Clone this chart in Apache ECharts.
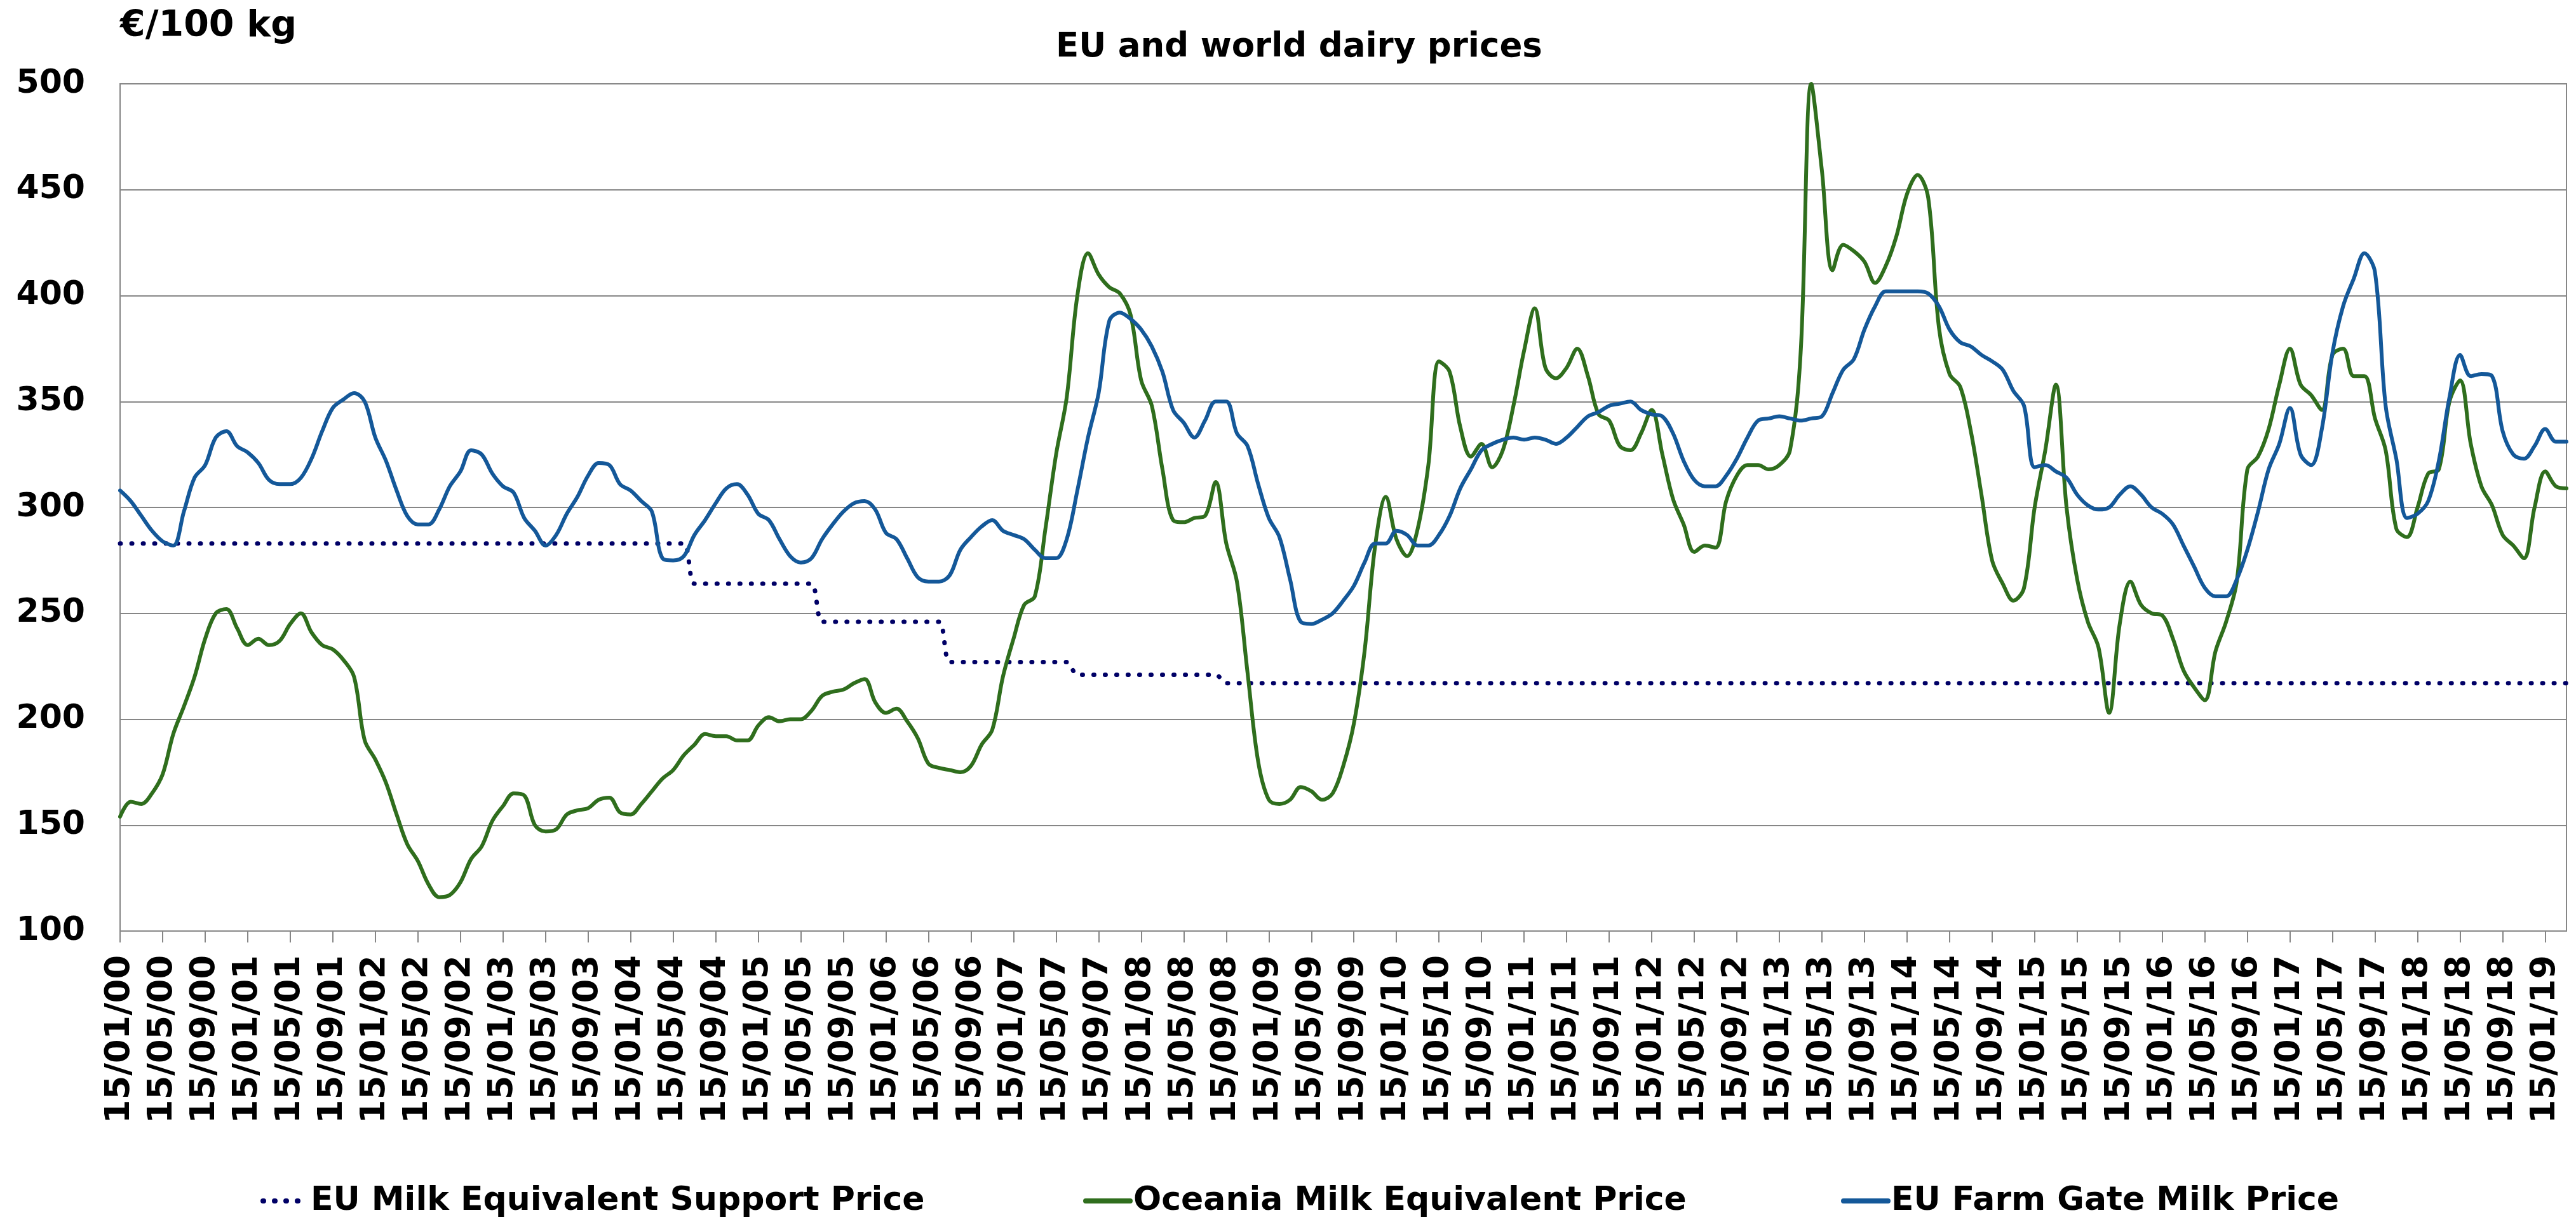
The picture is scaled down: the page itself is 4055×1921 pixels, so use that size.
<!DOCTYPE html>
<html>
<head>
<meta charset="utf-8">
<title>EU and world dairy prices</title>
<script src="https://cdn.jsdelivr.net/npm/echarts@6/dist/echarts.min.js"></script>
<style>
html, body { margin: 0; padding: 0; background: #fff; }
#chart { width: 4055px; height: 1921px; }
</style>
</head>
<body>
<div id="chart"></div>
<script>
"use strict";

// one category per month, 15/01/00 .. 15/03/19
var firstYear = 0;
var monthCount = 231;

// y axis ticks
var yMin = 100;
var yMax = 500;
var yStep = 50;

// EU intervention based milk equivalent (step series)
var supportPrice = [
    283,283,283,283,283,283,283,283,283,283,
    283,283,283,283,283,283,283,283,283,283,
    283,283,283,283,283,283,283,283,283,283,
    283,283,283,283,283,283,283,283,283,283,
    283,283,283,283,283,283,283,283,283,283,
    283,283,283,283,264,264,264,264,264,264,
    264,264,264,264,264,264,246,246,246,246,
    246,246,246,246,246,246,246,246,227,227,
    227,227,227,227,227,227,227,227,227,227,
    221,221,221,221,221,221,221,221,221,221,
    221,221,221,221,217,217,217,217,217,217,
    217,217,217,217,217,217,217,217,217,217,
    217,217,217,217,217,217,217,217,217,217,
    217,217,217,217,217,217,217,217,217,217,
    217,217,217,217,217,217,217,217,217,217,
    217,217,217,217,217,217,217,217,217,217,
    217,217,217,217,217,217,217,217,217,217,
    217,217,217,217,217,217,217,217,217,217,
    217,217,217,217,217,217,217,217,217,217,
    217,217,217,217,217,217,217,217,217,217,
    217,217,217,217,217,217,217,217,217,217,
    217,217,217,217,217,217,217,217,217,217,
    217,217,217,217,217,217,217,217,217,217,217
];

// Oceania milk equivalent price
var oceaniaPrice = [
    154,161,160,165,174,193,206,220,238,250,
    252,243,235,238,235,237,245,250,241,235,
    233,228,220,190,181,170,155,141,133,122,
    116,117,123,134,140,152,159,165,164,150,
    147,148,155,157,158,162,163,156,155,160,
    166,172,176,183,188,193,192,192,190,190,
    197,201,199,200,200,204,211,213,214,217,
    219,208,203,205,199,191,179,177,176,175,
    178,188,195,220,238,254,258,290,325,352,
    400,420,410,404,401,391,360,348,318,294,
    293,295,296,312,283,265,222,180,162,160,
    162,168,166,162,165,178,198,232,282,305,
    285,277,290,320,369,364,338,324,330,319,
    327,348,374,394,366,361,366,375,362,344,
    341,329,327,335,346,325,304,292,279,282,
    281,303,315,320,320,318,320,327,373,500,
    459,412,424,421,416,406,414,428,448,457,
    446,385,363,357,336,306,275,264,256,262,
    300,327,358,300,266,246,234,203,245,265,
    254,250,249,238,223,215,209,232,246,265,
    318,324,337,358,375,358,353,346,372,375,
    362,362,342,327,290,286,300,316,318,350,
    360,330,310,301,287,282,276,300,317,310,309
];

// EU farm gate milk price
var farmGatePrice = [
    308,303,296,289,284,282,298,314,320,333,
    336,329,326,321,313,311,311,314,323,336,
    347,351,354,350,333,322,308,296,292,292,
    299,310,317,327,325,316,310,307,295,289,
    282,287,297,305,315,321,320,311,308,303,
    298,276,275,277,287,294,302,309,311,306,
    297,294,285,277,274,276,285,292,298,302,
    303,299,288,285,276,267,265,265,268,280,
    286,291,294,289,287,285,280,276,276,285,
    308,333,354,388,392,389,384,376,364,346,
    340,333,341,350,350,335,329,311,295,286,
    266,246,245,247,250,256,263,274,283,283,
    289,287,282,282,287,296,309,318,327,330,
    332,333,332,333,332,330,333,338,343,345,
    348,349,350,346,344,343,335,322,313,310,
    310,315,323,333,341,342,343,342,341,342,
    343,354,365,370,384,395,402,402,402,402,
    401,395,384,378,376,372,369,365,355,348,
    319,320,317,314,306,301,299,300,306,310,
    306,300,297,292,282,272,262,258,258,266,
    280,298,318,330,347,325,320,337,373,395,
    408,420,411,348,323,295,297,303,322,352,
    372,362,363,362,336,325,323,329,337,331,331
];

var seriesNames = [
    "EU Milk Equivalent Support Price",
    "Oceania Milk Equivalent Price",
    "EU Farm Gate Milk Price"
];

function pad (n) {
    return n < 10 ? "0" + n : "" + n;
}

var categories = [];
for (var i = 0; i < monthCount; i++) {
    var yy = firstYear + Math.floor(i / 12);
    var mm = (i % 12) + 1;
    categories.push("15/" + pad(mm) + "/" + pad(yy));
}

var font = "DejaVu Sans";
var gridColor = "#868686";

var chart = echarts.init(document.querySelector("#chart"), null, {renderer: "canvas"});

// one legend per item so each sits where the original put it
function legendItem (name, left) {
    return {
        data: [name],
        left: left,
        top: 1860,
        itemWidth: 70,
        itemHeight: 20,
        itemGap: 0,
        itemStyle: {opacity: 0},
        lineStyle: {width: 8, cap: "round"},
        textStyle: {
            fontFamily: font,
            fontWeight: "bold",
            fontSize: 52,
            color: "#000"
        }
    };
}

var option = {
    backgroundColor: "#fff",
    animation: false,
    title: {
        text: "EU and world dairy prices",
        left: 2040,
        top: 44,
        textAlign: "center",
        textStyle: {
            fontFamily: font,
            fontWeight: "bold",
            fontSize: 53,
            color: "#000"
        }
    },
    legend: [
        legendItem(seriesNames[0], 405),
        legendItem(seriesNames[1], 1700),
        legendItem(seriesNames[2], 2893)
    ],
    grid: {
        left: 189,
        right: 15,
        top: 132,
        bottom: 455,
        show: true,
        borderColor: gridColor,
        borderWidth: 2
    },
    xAxis: {
        type: "category",
        boundaryGap: false,
        data: categories,
        axisLine: {lineStyle: {color: gridColor, width: 2}},
        axisTick: {
            interval: 3,
            length: 18,
            lineStyle: {color: gridColor, width: 2}
        },
        axisLabel: {
            interval: 3,
            rotate: 90,
            margin: 38,
            fontFamily: font,
            fontWeight: "bold",
            fontSize: 54,
            color: "#000"
        },
        splitLine: {show: false}
    },
    yAxis: {
        type: "value",
        min: yMin,
        max: yMax,
        interval: yStep,
        name: "€/100 kg",
        nameLocation: "end",
        nameGap: 90,
        nameTextStyle: {
            align: "left",
            verticalAlign: "middle",
            fontFamily: font,
            fontWeight: "bold",
            fontSize: 57,
            color: "#000"
        },
        axisLine: {show: true, lineStyle: {color: gridColor, width: 2}},
        axisTick: {show: false},
        axisLabel: {
            margin: 55,
            fontFamily: font,
            fontWeight: "bold",
            fontSize: 52,
            color: "#000"
        },
        splitLine: {lineStyle: {color: gridColor, width: 2}}
    },
    series: [
        {
            name: seriesNames[0],
            type: "line",
            data: supportPrice,
            smooth: 0.35,
            showSymbol: false,
            symbol: "none",
            color: "#000066",
            lineStyle: {
                color: "#000066",
                width: 7,
                type: [1, 17],
                cap: "round"
            }
        },
        {
            name: seriesNames[1],
            type: "line",
            data: oceaniaPrice,
            smooth: 0.35,
            showSymbol: false,
            symbol: "none",
            color: "#2f6e1d",
            lineStyle: {color: "#2f6e1d", width: 6, cap: "round"}
        },
        {
            name: seriesNames[2],
            type: "line",
            data: farmGatePrice,
            smooth: 0.35,
            showSymbol: false,
            symbol: "none",
            color: "#145899",
            lineStyle: {color: "#145899", width: 6, cap: "round"}
        }
    ]
};

chart.setOption(option);
</script>
</body>
</html>
